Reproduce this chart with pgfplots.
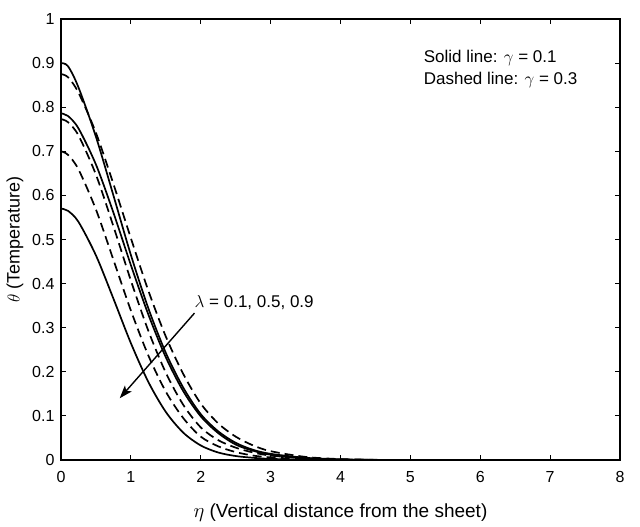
\documentclass[border=0pt]{standalone}
\usepackage{pgfplots}
\pgfplotsset{compat=1.18}
\usepackage{fontspec}
\setmainfont{Liberation Sans}
\usetikzlibrary{arrows.meta}
\begin{document}
\begin{tikzpicture}
\pgfplotsset{
  sol/.style={black, line width=1.7bp, smooth},
  dsh/.style={black, line width=1.7bp, smooth, dash pattern=on 9bp off 5bp},
}
\begin{axis}[
  at={(0,0)}, anchor=south west,
  scale only axis, width=559bp, height=441bp,
  xmin=0, xmax=8, ymin=0, ymax=1,
  xtick={0,1,...,8}, ytick={0,0.1,...,1},
  yticklabels={0,0.1,0.2,0.3,0.4,0.5,0.6,0.7,0.8,0.9,1},
  tick align=inside, major tick length=5bp,
  axis line style={line width=1.3bp},
  every tick/.style={black, line width=1.1bp},
  /pgf/number format/assume math mode=true,
  tick label style={font=\fontsize{16bp}{18bp}\selectfont},
  xticklabel style={yshift=-8bp},
  yticklabel style={xshift=-3bp},
  xlabel={$\eta$ (Vertical distance from the sheet)},
  ylabel={$\theta$ (Temperature)},
  xlabel style={font=\fontsize{19bp}{22bp}\selectfont, at={(rel axis cs:0.5,-0.1315)}, anchor=base},
  ylabel style={font=\fontsize{18bp}{22bp}\selectfont, at={(rel axis cs:-0.0823,0.5)}, anchor=center},
  clip=true,
]
% Solid lines, gamma = 0.1 (lambda = 0.1, 0.5, 0.9)
\addplot[sol] coordinates {(0,0.900)(0.1,0.893)(0.25,0.845)(0.5,0.733)(0.75,0.600)(1.0,0.465)(1.25,0.344)(1.5,0.243)(1.75,0.164)(2.0,0.104)(2.25,0.065)(2.5,0.039)(2.75,0.023)(3.0,0.014)(3.5,0.005)(4.0,0.0015)(4.5,0.0003)(5,0)(8,0)};
\addplot[sol] coordinates {(0,0.786)(0.1,0.780)(0.25,0.752)(0.5,0.670)(0.75,0.561)(1.0,0.442)(1.25,0.330)(1.5,0.233)(1.75,0.156)(2.0,0.099)(2.25,0.061)(2.5,0.035)(2.75,0.021)(3.0,0.012)(3.5,0.004)(4.0,0.0012)(4.5,0.0002)(5,0)(8,0)};
\addplot[sol] coordinates {(0,0.570)(0.1,0.565)(0.25,0.540)(0.5,0.464)(0.75,0.366)(1.0,0.265)(1.25,0.177)(1.5,0.109)(1.75,0.062)(2.0,0.033)(2.25,0.017)(2.5,0.009)(2.75,0.005)(3.0,0.0025)(3.5,0.0007)(4.0,0)(8,0)};
% Dashed lines, gamma = 0.3 (lambda = 0.1, 0.5, 0.9)
\addplot[dsh] coordinates {(0,0.875)(0.1,0.868)(0.25,0.833)(0.5,0.742)(0.75,0.626)(1.0,0.503)(1.25,0.384)(1.5,0.280)(1.75,0.195)(2.0,0.128)(2.25,0.083)(2.5,0.053)(2.75,0.033)(3.0,0.020)(3.5,0.007)(4.0,0.002)(4.5,0.0005)(5,0)(8,0)};
\addplot[dsh] coordinates {(0,0.773)(0.1,0.766)(0.25,0.736)(0.5,0.647)(0.75,0.530)(1.0,0.407)(1.25,0.293)(1.5,0.198)(1.75,0.125)(2.0,0.074)(2.25,0.045)(2.5,0.028)(2.75,0.017)(3.0,0.010)(3.5,0.0035)(4.0,0.001)(4.5,0.0002)(5,0)(8,0)};
\addplot[dsh] coordinates {(0,0.700)(0.1,0.692)(0.25,0.659)(0.5,0.568)(0.75,0.454)(1.0,0.339)(1.25,0.237)(1.5,0.155)(1.75,0.095)(2.0,0.053)(2.25,0.031)(2.5,0.018)(2.75,0.010)(3.0,0.006)(3.5,0.002)(4.0,0.0005)(4.5,0)(8,0)};
% arrow and annotations
\draw[line width=1.4bp, -{Stealth[length=13bp,width=9bp,inset=3bp]}] (axis cs:1.91,0.333) -- (axis cs:0.84,0.14);
\node[anchor=base west, inner sep=0pt, font=\fontsize{17bp}{20bp}\selectfont] at (axis cs:1.91,0.345) {$\lambda$ = 0.1, 0.5, 0.9};
\node[anchor=base west, inner sep=0pt, font=\fontsize{17bp}{20bp}\selectfont] at (axis cs:5.19,0.902) {Solid line: $\gamma$ = 0.1};
\node[anchor=base west, inner sep=0pt, font=\fontsize{17bp}{20bp}\selectfont] at (axis cs:5.19,0.852) {Dashed line: $\gamma$ = 0.3};
\end{axis}
\path[use as bounding box] (-61bp,-67bp) rectangle (579bp,460bp);
\end{tikzpicture}
\end{document}
